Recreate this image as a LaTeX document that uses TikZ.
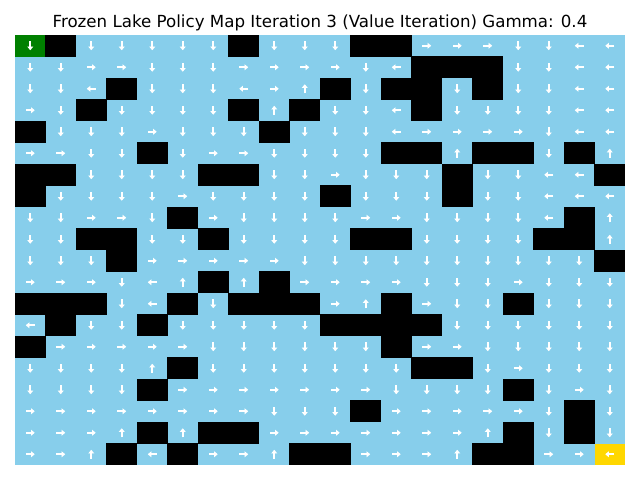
\documentclass[tikz,border=0pt]{standalone}
\usepackage{fontspec}
\setmainfont{DejaVu Sans}
\usetikzlibrary{arrows.meta}
\definecolor{lake}{RGB}{135,206,235}
\definecolor{startgreen}{RGB}{0,128,0}
\definecolor{goalgold}{RGB}{255,215,0}
\tikzset{
  arr/.style={white, line width=1.8pt, -{Triangle[width=4.4pt,length=2.8pt]}},
  pics/cH/.style={code={\fill[black] (-15.4,-10.9) rectangle (15.4,10.9);}},
  pics/cS/.style={code={\fill[startgreen] (-15.25,-10.75) rectangle (15.25,10.75); \draw[arr] (0,-4.5) -- (0,4.5);}},
  pics/cG/.style={code={\fill[goalgold] (-15.25,-10.75) rectangle (15.25,10.75); \draw[arr] (4.5,0) -- (-4.5,0);}},
  pics/cD/.style={code={\draw[arr] (0,-4.5) -- (0,4.5);}},
  pics/cU/.style={code={\draw[arr] (0,4.5) -- (0,-4.5);}},
  pics/cL/.style={code={\draw[arr] (4.5,0) -- (-4.5,0);}},
  pics/cR/.style={code={\draw[arr] (-4.5,0) -- (4.5,0);}},
}
\begin{document}
\begin{tikzpicture}[x=0.75pt,y=-0.75pt]
\useasboundingbox (0,0) rectangle (640,480);
\fill[white] (0,0) rectangle (640,480);
\fill[lake] (15,35) rectangle (625,465);
\node[font=\fontsize{12.5}{15}\selectfont, anchor=base] (title) at (320,27) {Frozen Lake Policy Map Iteration 3 (Value Iteration) Gamma: 0.4};
\foreach \rowlist [count=\r from 0] in {%
{S,H,D,D,D,D,D,H,D,D,D,H,H,R,R,R,D,D,L,L},%
{D,D,R,R,D,D,D,R,R,R,R,D,L,H,H,H,D,D,L,L},%
{D,D,L,H,D,D,D,L,R,U,H,D,H,H,D,H,D,D,L,L},%
{R,D,H,D,D,D,D,H,U,H,D,D,L,H,D,D,D,D,L,L},%
{H,D,D,D,R,D,D,D,H,D,D,D,L,R,R,R,R,D,L,L},%
{R,R,D,D,H,D,R,R,D,D,D,D,H,H,U,H,H,D,H,U},%
{H,H,D,D,D,D,H,H,D,D,R,D,D,D,H,D,D,L,L,H},%
{H,D,D,D,D,R,D,D,D,D,H,D,D,D,H,D,D,L,L,L},%
{D,D,R,R,D,H,R,D,D,D,D,R,R,D,D,D,D,L,H,U},%
{D,D,H,H,D,D,H,D,D,D,D,H,H,D,D,D,D,H,H,U},%
{D,D,D,H,R,R,R,R,R,D,D,D,D,D,D,D,D,D,D,H},%
{R,R,R,D,L,U,H,U,H,R,R,R,R,D,D,D,R,D,D,D},%
{H,H,H,D,L,H,D,H,H,H,R,U,H,R,D,D,H,D,D,D},%
{L,H,D,D,H,D,D,D,D,D,H,H,H,H,D,D,D,D,D,D},%
{H,R,R,R,R,R,D,D,D,D,D,D,H,R,R,D,D,D,D,D},%
{D,D,D,D,U,H,D,D,D,D,D,D,D,H,H,D,R,D,D,D},%
{D,D,D,D,H,R,R,R,R,R,R,R,D,D,D,D,H,D,R,D},%
{R,R,R,R,R,R,R,R,D,D,D,H,R,R,R,R,R,D,H,D},%
{R,R,R,U,H,U,H,H,R,R,R,R,R,R,R,U,H,D,H,D},%
{R,R,U,H,L,H,R,R,U,H,H,R,R,R,U,H,H,R,R,G}%
}{
  \foreach \code [count=\c from 0] in \rowlist {
    \pgfmathsetmacro\cx{30.25+30.5*\c}
    \pgfmathsetmacro\cy{45.75+21.5*\r}
    \edef\doit{\noexpand\pic at (\cx,\cy) {c\code};}
    \doit
  }
}
\end{tikzpicture}
\end{document}
